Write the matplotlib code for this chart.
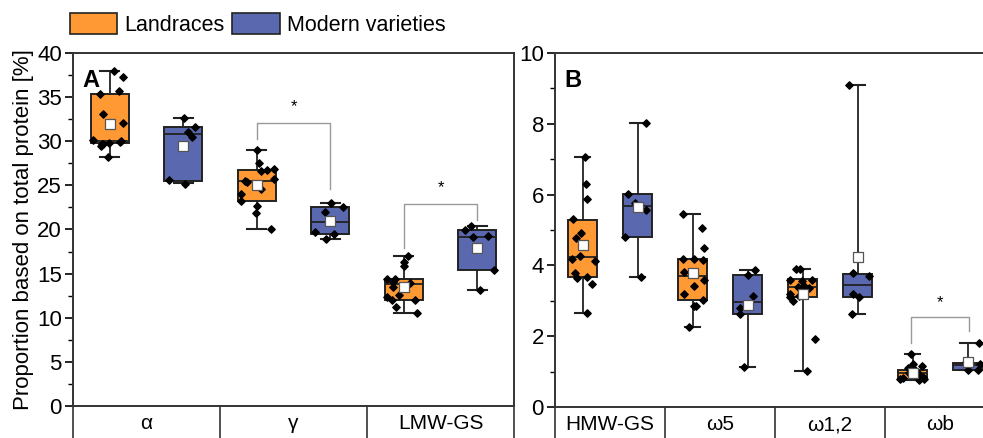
import numpy as np
import matplotlib
matplotlib.use('Agg')
import matplotlib.pyplot as plt
from matplotlib.patches import Patch
from matplotlib.transforms import blended_transform_factory

plt.rcParams['font.family'] = ['Liberation Sans', 'DejaVu Sans']

ORANGE = '#FF9933'
BLUE = '#5A68B0'

# ---- panel A: alpha, gamma, LMW-GS ----
cats_a = ['α', 'γ', 'LMW-GS']

a_land_whislo = [28.2, 20.0, 10.5]
a_land_q1 = [29.8, 23.2, 12.0]
a_land_med = [30.0, 25.45, 13.8]
a_land_q3 = [35.3, 26.7, 14.4]
a_land_whishi = [38.0, 29.0, 16.95]
a_land_mean = [32.0, 25.0, 13.5]

a_mod_whislo = [25.3, 18.9, 13.2]
a_mod_q1 = [25.5, 19.45, 15.45]
a_mod_med = [30.8, 20.8, 19.2]
a_mod_q3 = [31.6, 22.55, 19.9]
a_mod_whishi = [32.6, 23.0, 20.4]
a_mod_mean = [29.5, 21.0, 17.95]

a_land_pts = [
    [38.0, 37.3, 35.7, 35.3, 33.1, 32.1, 30.1, 30.05, 29.9, 29.75, 29.7, 29.65, 29.5, 28.2],
    [29.0, 27.5, 26.8, 26.7, 26.65, 25.7, 25.4, 25.5, 24.55, 24.0, 23.2, 22.65, 21.9, 20.0],
    [16.95, 16.3, 15.85, 14.4, 14.4, 14.0, 13.9, 13.5, 12.6, 12.35, 12.0, 12.0, 11.2, 10.5],
]
a_mod_pts = [
    [32.6, 31.6, 31.05, 30.5, 25.6, 25.2],
    [23.0, 22.55, 21.95, 19.5, 19.7, 18.9],
    [20.4, 19.9, 19.25, 19.1, 15.45, 13.2],
]

# ---- panel B: HMW-GS, omega gliadins ----
cats_b = ['HMW-GS', 'ω5', 'ω1,2', 'ωb']

b_land_whislo = [2.65, 2.25, 1.02, 0.76]
b_land_q1 = [3.67, 3.02, 3.10, 0.78]
b_land_med = [4.23, 3.70, 3.40, 0.95]
b_land_q3 = [5.28, 4.18, 3.61, 1.05]
b_land_whishi = [7.07, 5.45, 3.91, 1.49]
b_land_mean = [4.59, 3.78, 3.18, 0.97]

b_mod_whislo = [3.68, 1.14, 2.62, 1.05]
b_mod_q1 = [4.80, 2.62, 3.10, 1.05]
b_mod_med = [5.68, 2.96, 3.45, 1.19]
b_mod_q3 = [6.01, 3.73, 3.76, 1.25]
b_mod_whishi = [8.01, 3.87, 9.09, 1.80]
b_mod_mean = [5.64, 2.87, 4.25, 1.28]

b_land_pts = [
    [7.07, 6.3, 5.87, 5.3, 4.92, 4.77, 4.27, 4.18, 4.12, 3.78, 3.67, 3.65, 3.48, 2.65],
    [5.45, 5.07, 4.49, 4.15, 4.18, 4.18, 3.82, 3.59, 3.42, 3.19, 3.02, 2.86, 2.86, 2.25],
    [3.91, 3.91, 3.6, 3.58, 3.57, 3.42, 3.39, 3.35, 3.18, 3.13, 3.1, 3.0, 1.91, 1.02],
    [1.49, 1.22, 1.15, 1.1, 1.05, 1.0, 0.97, 0.95, 0.9, 0.85, 0.82, 0.8, 0.78, 0.76],
]
b_mod_pts = [
    [8.01, 6.01, 5.75, 5.57, 4.80, 3.68],
    [3.87, 3.73, 3.14, 2.79, 2.62, 1.14],
    [9.09, 3.78, 3.71, 3.10, 3.18, 2.62],
    [1.80, 1.28, 1.22, 1.15, 1.05, 1.04],
]

# significance brackets: (category, top, left end, right end)
sig_a = [(1, 32.1, 30.2, 24.55), (2, 22.9, 17.95, 21.1)]
sig_b = [(3, 2.53, 1.82, 2.15)]

rng = np.random.default_rng(7)


def make_stats(lo, q1, med, q3, hi):
    return [dict(whislo=a, q1=b, med=c, q3=d, whishi=e, fliers=[])
            for a, b, c, d, e in zip(lo, q1, med, q3, hi)]


def draw_group(ax, pos, stats, means, pts, color, width):
    ax.bxp(stats, positions=pos, widths=width, patch_artist=True,
           showfliers=False, capwidths=width * 0.5,
           boxprops=dict(facecolor=color, edgecolor='#222222', linewidth=1.4),
           medianprops=dict(color='#222222', linewidth=1.3),
           whiskerprops=dict(color='#222222', linewidth=1.3),
           capprops=dict(color='#222222', linewidth=1.5))
    for p, vals in zip(pos, pts):
        jit = rng.uniform(-0.45, 0.45, len(vals)) * width
        ax.scatter(p + jit, vals, marker='D', s=14, color='black', zorder=4)
    ax.scatter(pos, means, marker='s', s=50, facecolor='white',
               edgecolor='#555555', linewidth=0.9, zorder=5)


def setup_axis(ax, cats, ymax, major, minor, letter):
    n = len(cats)
    ax.set_xlim(-0.5, n - 0.5)
    ax.set_ylim(0, ymax)
    ax.set_xticks([])
    ax.set_yticks(np.arange(0, ymax + 0.01, major))
    ax.set_yticks(np.arange(0, ymax + 0.01, minor), minor=True)
    ax.tick_params(axis='y', which='major', direction='out', length=6,
                   width=1.2, labelsize=16, pad=2)
    ax.tick_params(axis='y', which='minor', direction='out', length=3.5, width=1.0)
    for s in ax.spines.values():
        s.set_linewidth(1.4)
        s.set_color('#333333')
    tr = blended_transform_factory(ax.transData, ax.transAxes)
    for b in np.arange(-0.5, n, 1.0):
        ax.plot([b, b], [0, -0.12], transform=tr, color='#333333',
                linewidth=1.2, clip_on=False)
    for i, c in enumerate(cats):
        ax.text(i, -0.05, c, transform=tr, ha='center', va='center', fontsize=15)
    ax.text(0.022, 0.955, letter, transform=ax.transAxes, fontsize=17,
            fontweight='bold', ha='left', va='top')


def draw_sig(ax, sigs, off, star_gap):
    for c, top, yl, yr in sigs:
        xl, xr = c - off, c + off
        ax.plot([xl, xl, xr, xr], [yl, top, top, yr], color='#999999',
                linewidth=1.0, zorder=1)
        ax.text(c, top + star_gap, '*', ha='center', va='center', fontsize=12)


fig = plt.figure(figsize=(9.83, 4.38), dpi=100)
ax_a = fig.add_axes([73 / 983, 1 - 406 / 438, 441 / 983, 353 / 438])
ax_b = fig.add_axes([555 / 983, 1 - 407 / 438, 440 / 983, 354 / 438])

xa = np.arange(len(cats_a))
draw_group(ax_a, xa - 0.25, make_stats(a_land_whislo, a_land_q1, a_land_med, a_land_q3, a_land_whishi),
           a_land_mean, a_land_pts, ORANGE, 0.26)
draw_group(ax_a, xa + 0.25, make_stats(a_mod_whislo, a_mod_q1, a_mod_med, a_mod_q3, a_mod_whishi),
           a_mod_mean, a_mod_pts, BLUE, 0.26)
setup_axis(ax_a, cats_a, 40, 5, 2.5, 'A')
draw_sig(ax_a, sig_a, 0.25, 1.8)
ax_a.set_ylabel('Proportion based on total protein [%]', fontsize=16, labelpad=2)

xb = np.arange(len(cats_b))
draw_group(ax_b, xb - 0.25, make_stats(b_land_whislo, b_land_q1, b_land_med, b_land_q3, b_land_whishi),
           b_land_mean, b_land_pts, ORANGE, 0.265)
draw_group(ax_b, xb + 0.25, make_stats(b_mod_whislo, b_mod_q1, b_mod_med, b_mod_q3, b_mod_whishi),
           b_mod_mean, b_mod_pts, BLUE, 0.265)
setup_axis(ax_b, cats_b, 10, 2, 1, 'B')
draw_sig(ax_b, sig_b, 0.26, 0.42)

handles = [Patch(facecolor=ORANGE, edgecolor='#222222', linewidth=1.2, label='Landraces'),
           Patch(facecolor=BLUE, edgecolor='#222222', linewidth=1.2, label='Modern varieties')]
fig.legend(handles=handles, loc='upper left', bbox_to_anchor=(70 / 983, 1 - 13 / 438),
           ncol=2, frameon=False, fontsize=15.5, handlelength=2.2, handleheight=1.1,
           handletextpad=0.33, columnspacing=0.35, borderpad=0, borderaxespad=0)

fig.savefig('out.png', dpi=100)
